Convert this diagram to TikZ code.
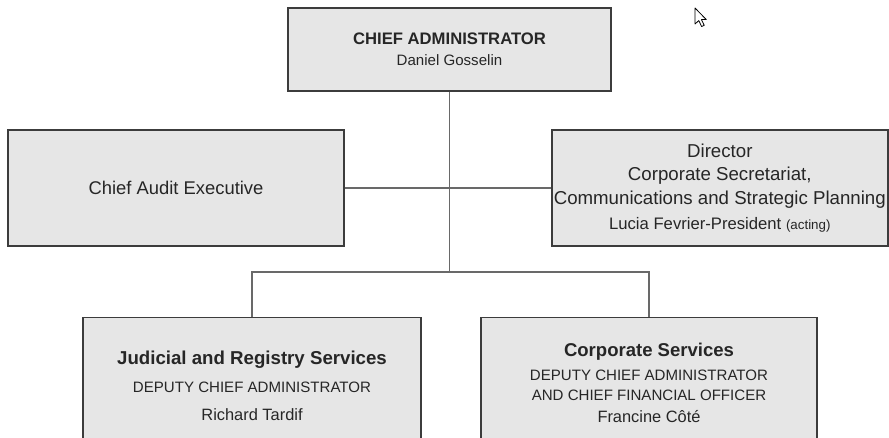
\documentclass[tikz,border=0pt]{standalone}
\usepackage{fontspec}
\setmainfont{Liberation Sans}
\usetikzlibrary{positioning}
\definecolor{boxgray}{RGB}{230,230,230}
\definecolor{boxline}{RGB}{60,60,60}
\definecolor{linkgray}{RGB}{105,105,105}
\newcommand{\fs}[2]{\fontsize{#1}{#2}\selectfont}
\begin{document}
\begin{tikzpicture}[x=0.75pt,y=-0.75pt,
    orgbox/.style={draw=boxline, fill=boxgray, line width=1.1pt, align=center, inner sep=0pt, text=black!85},
    link/.style={draw=linkgray, line width=0.8pt}]
    \useasboundingbox (0,0) rectangle (889,438);
    \clip (0,0) rectangle (889,438);

    % Vertici
    \node[orgbox, minimum width=242.25pt, minimum height=62.25pt] (chief) at (449.5,49.5)
        {\fs{12.5}{15}\bfseries CHIEF ADMINISTRATOR\\[3.5pt]\fs{11.3}{14}Daniel Gosselin};
    \node[orgbox, minimum width=252pt, minimum height=87pt] (audit) at (176,188)
        {\fs{13.8}{16}Chief Audit Executive};
    \node[orgbox, minimum width=252pt, minimum height=87pt, font=\fs{14}{17.5}] (director) at (719.8,188)
        {Director\\Corporate Secretariat,\\Communications and Strategic Planning\\[1.5pt]
         \fs{12.5}{15}Lucia Fevrier-President {\fs{10}{12}(acting)}};

    % Direzioni
    \node[orgbox, anchor=north, minimum width=253.5pt, minimum height=102pt] (judicial) at (252,317)
        {\fs{14}{16}\bfseries Judicial and Registry Services\\[9.25pt]
         \fs{11.3}{14}DEPUTY CHIEF ADMINISTRATOR\\[8.5pt]\fs{12.3}{14}Richard Tardif};
    \node[orgbox, anchor=north, minimum width=252pt, minimum height=97pt, font=\fs{11.3}{15}] (corporate) at (649,317)
        {\fs{13.9}{16}\bfseries Corporate Services\\[3pt]
         DEPUTY CHIEF ADMINISTRATOR\\AND CHIEF FINANCIAL OFFICER\\[1.5pt]
         \fs{12.3}{14}Francine Côté};

    % Collegamenti
    \coordinate (split) at (chief.south |- 0,272);
    \draw[link] (chief.south) -- (split);
    \draw[link] (audit.east) -- (director.west);
    \draw[link] (judicial.north) |- (split) -| (corporate.north);

    % Puntatore
    \draw[fill=white, line width=0.6pt, line join=round]
        (695,8) -- ++(0,16) -- ++(3.8,-3.4) -- ++(2.8,5.9) -- ++(2.6,-1.2)
        -- ++(-2.8,-5.7) -- ++(4.9,0) -- cycle;
\end{tikzpicture}
\end{document}
